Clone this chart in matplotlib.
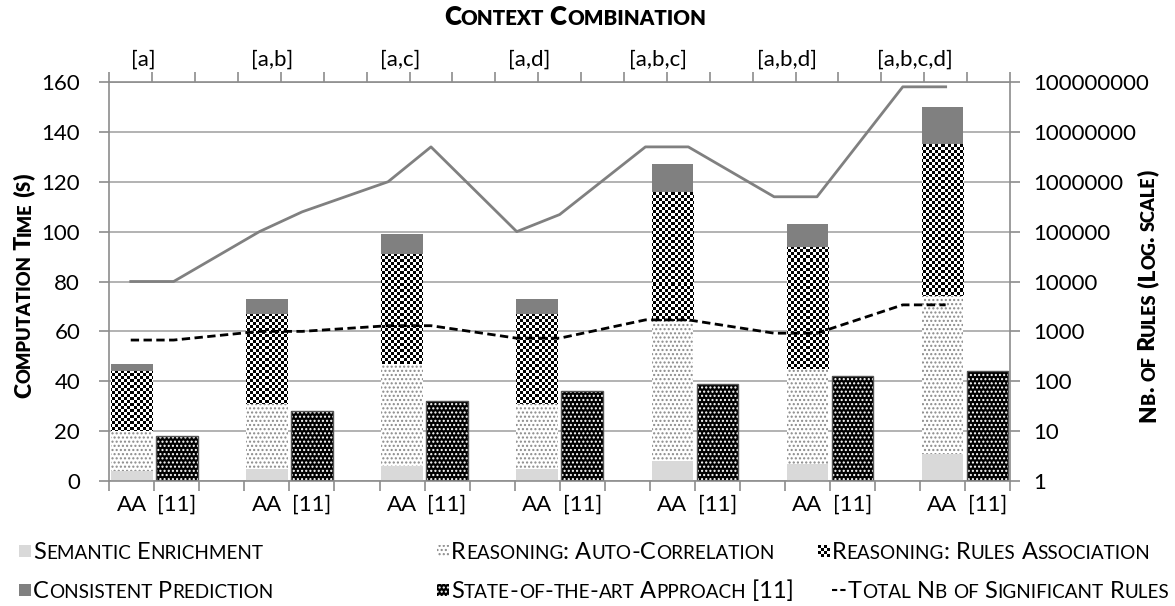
import numpy as np
import matplotlib
matplotlib.use('Agg')
import matplotlib.pyplot as plt
from matplotlib.patches import Rectangle
from matplotlib.lines import Line2D
from matplotlib.ticker import NullLocator
from matplotlib.transforms import offset_copy

plt.rcParams['font.family'] = ['Lato', 'DejaVu Sans']

# data
groups = ['[a]', '[a,b]', '[a,c]', '[a,d]', '[a,b,c]', '[a,b,d]', '[a,b,c,d]']
semantic = [4, 5, 6, 5, 8, 7, 11]
auto_corr = [16, 26, 41, 26, 56, 38, 63]
rules_assoc = [24, 36, 44, 36, 52, 49, 61]
consistent = [3, 6, 8, 6, 11, 9, 15]
sota = [18, 28, 32, 36, 39, 42, 44]
bar_labels = ['AA', '[11]']
# two points per combination (AA, [11]) on the log axis
total_rules = [10000, 10000, 100000, 250000, 1000000, 5000000, 100000, 220000,
               5000000, 5000000, 500000, 500000, 80000000, 80000000]
significant_rules = [670, 670, 1000, 1000, 1300, 1300, 730, 730,
                     1700, 1700, 920, 920, 3400, 3400]

W, H = 1175, 606
fig = plt.figure(figsize=(W / 100, H / 100), dpi=100)
renderer = fig.canvas.get_renderer()

axc = '#8c8c8c'
gridc = '#a6a6a6'
pos = [109.3 / W, 1 - 481 / H, (1010 - 109.3) / W, (481 - 82) / H]

ax = fig.add_axes(pos)
ax.set_xlim(0, 20)
ax.set_ylim(0, 160)
ax.set_axisbelow(True)
ax.yaxis.grid(True, color=gridc, lw=1.2)
for s in ax.spines.values():
    s.set_color(axc)
    s.set_linewidth(1.2)
ax.set_yticks(np.arange(0, 161, 20))
ax.tick_params(axis='y', direction='out', length=7, color=axc, width=1.2,
               labelsize=16, pad=14)
ax.set_xticks(np.arange(0, 21))
ax.tick_params(axis='x', which='major', direction='out', length=7, color=axc,
               width=1.2, labelbottom=False)
centers = np.arange(20) + 0.5
labels = (bar_labels + ['']) * 6 + bar_labels
ax.set_xticks(centers, labels, minor=True)
ax.tick_params(axis='x', which='minor', length=0, labelsize=16, pad=10)

ng = len(groups)
aa_x = np.arange(ng) * 3 + 0.5
ref_x = aa_x + 1
bw = 0.92

sem = np.array(semantic)
auto = np.array(auto_corr)
rul = np.array(rules_assoc)
con = np.array(consistent)

ax.bar(aa_x, sem, bw, color='#d9d9d9', lw=0)
ax.bar(aa_x, auto, bw, bottom=sem, facecolor='white', edgecolor='#8a8a8a',
       lw=0, hatch='....')
p_rul = ax.bar(aa_x, rul, bw, bottom=sem + auto, color='white', lw=0)
ax.bar(aa_x, con, bw, bottom=sem + auto + rul, color='#808080', lw=0)
ax.bar(ref_x, sota, bw, facecolor='black', edgecolor='white', lw=0,
       hatch='....')
ax.bar(ref_x, sota, bw, fill=False, edgecolor='#555555', lw=1)

# checkerboard fill (3 px squares) clipped to the rules-association bars
checker = np.indices((133, 300)).sum(axis=0) % 2
for p in p_rul:
    im = ax.imshow(checker, extent=(0, 20, 0, 160), aspect='auto',
                   interpolation='nearest', cmap='gray', vmin=0, vmax=1,
                   zorder=1.5)
    im.set_clip_path(p)
ax.set_xlim(0, 20)
ax.set_ylim(0, 160)

# secondary axes: top categories and right log scale
ax2 = fig.add_axes(pos, frameon=False)
ax2.patch.set_visible(False)
ax2.set_xlim(0, 21)
ax2.set_yscale('log')
ax2.set_ylim(1, 1e8)
ax2.xaxis.tick_top()
ax2.yaxis.tick_right()
ax2.set_xticks(np.arange(0, 22))
ax2.tick_params(axis='x', which='major', direction='out', length=7, color=axc,
                width=1.2, labeltop=False)
ax2.set_xticks(np.arange(ng) * 3 + 0.79, groups, minor=True)
ax2.tick_params(axis='x', which='minor', length=0, labelsize=16, pad=9,
                labeltop=True, labelbottom=False)
ax2.set_yticks([10 ** k for k in range(9)],
               [str(10 ** k) for k in range(9)])
ax2.yaxis.set_minor_locator(NullLocator())
ax2.tick_params(axis='y', direction='out', length=7, color=axc, width=1.2,
                labelsize=16, pad=10)

line_x = [3 * g + 0.5 + j for g in range(ng) for j in (0, 1)]
ax2.plot(line_x, total_rules, color='#808080', lw=2)
ax2.plot(line_x, significant_rules, color='black', lw=2, dashes=(3, 1.6))


# small caps text helper
def text_width(s, size, weight):
    t1 = fig.text(0, 0, '|' + s + '|', fontsize=size, fontweight=weight)
    t2 = fig.text(0, 0, '||', fontsize=size, fontweight=weight)
    w = (t1.get_window_extent(renderer).width
         - t2.get_window_extent(renderer).width)
    t1.remove()
    t2.remove()
    return w * 72 / fig.dpi


def small_caps(x, y, s, size, ratio=0.8, weight='normal', rotation=0,
               ha='left'):
    runs = []
    for ch in s:
        small = ch.islower()
        if runs and runs[-1][1] == small:
            runs[-1][0] += ch.upper()
        else:
            runs.append([ch.upper(), small])
    sizes = [size * ratio if sm else size for _, sm in runs]
    widths = [text_width(t, sz, weight) for (t, _), sz in zip(runs, sizes)]
    d = -sum(widths) / 2 if ha == 'center' else 0
    a = np.radians(rotation)
    for (t, _), sz, w in zip(runs, sizes, widths):
        tr = offset_copy(fig.transFigure, fig=fig, x=d * np.cos(a),
                         y=d * np.sin(a), units='points')
        fig.text(x / W, 1 - y / H, t, fontsize=sz, fontweight=weight,
                 rotation=rotation, rotation_mode='anchor', ha='left',
                 va='baseline', transform=tr)
        d += w


small_caps(575, 25, 'Context Combination', 18.5, weight='heavy',
           ha='center')
small_caps(31, 286, 'Computation Time (s)', 16.5, weight='heavy',
           rotation=90, ha='center')
small_caps(1155, 296, 'Nb. of Rules (Log. scale)', 16.3, weight='heavy',
           rotation=90, ha='center')

# legend
legend_items = [
    (19, 551, 'Semantic Enrichment', dict(facecolor='#d9d9d9', lw=0)),
    (437, 551, 'Reasoning: Auto-Correlation',
     dict(facecolor='white', edgecolor='#8a8a8a', lw=0, hatch='....')),
    (818, 551, 'Reasoning: Rules Association', None),
    (19, 590, 'Consistent Prediction', dict(facecolor='#808080', lw=0)),
    (437, 590, 'State-of-the-art Approach [11]',
     dict(facecolor='black', edgecolor='white', lw=0, hatch='....')),
]
for lx, ly, txt, style in legend_items:
    if style is None:
        key = np.kron(np.indices((4, 4)).sum(axis=0) % 2, np.ones((3, 3)))
        fig.figimage(key, xo=lx, yo=H - ly - 6, cmap='gray', vmin=0, vmax=1)
    else:
        r = Rectangle((lx / W, 1 - (ly + 6) / H), 12 / W, 12 / H,
                      transform=fig.transFigure, **style)
        fig.add_artist(r)
    small_caps(lx + 14, ly + 8, txt, 17)

fig.add_artist(Line2D([832 / W, 846 / W], [1 - 590 / H, 1 - 590 / H],
                      transform=fig.transFigure, color='black', lw=1.5,
                      dashes=(2.5, 1.5)))
small_caps(848, 598, 'Total Nb of Significant Rules', 17)

fig.savefig('out.png', dpi=100)
